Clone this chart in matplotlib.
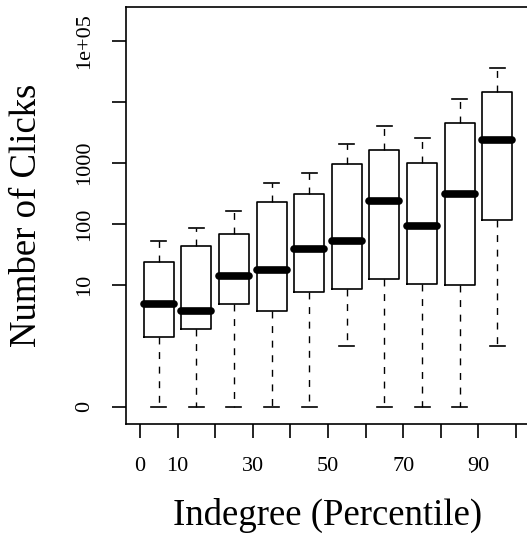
import matplotlib
matplotlib.use("Agg")
import matplotlib.pyplot as plt

plt.rcParams["font.family"] = ["Liberation Serif", "DejaVu Serif"]
plt.rcParams["lines.scale_dashes"] = False

# percentile bins (box centres) and box statistics (clicks); 0 clicks drawn at 0.1
positions = [5, 15, 25, 35, 45, 55, 65, 75, 85, 95]
whis_lo = [0, 0, 0, 0, 0, 1, 0, 0, 0, 1]
q1 = [1.4, 1.9, 4.8, 3.75, 7.7, 8.7, 12.5, 10.4, 9.9, 116]
medians = [4.8, 3.75, 14, 17.6, 39, 53, 238, 92, 307, 2380]
q3 = [24, 44, 68, 226, 307, 964, 1633, 1010, 4580, 14400]
whis_hi = [53, 85, 165, 470, 693, 2050, 4040, 2535, 11200, 35600]

x_ticks = [0, 10, 20, 30, 40, 50, 60, 70, 80, 90, 100]
x_labels = ["0", "10", "", "30", "", "50", "", "70", "", "90", ""]
y_ticks = [0.1, 10, 100, 1000, 10000, 100000]
y_labels = ["0", "10", "100", "1000", "", "1e+05"]

ZERO = 0.1


def fix(v):
    return ZERO if v == 0 else v


stats = []
for lo, a, m, b, hi in zip(whis_lo, q1, medians, q3, whis_hi):
    stats.append(dict(whislo=fix(lo), q1=a, med=m, q3=b, whishi=hi, fliers=[]))

fig = plt.figure(figsize=(5.27, 5.35), dpi=100)
W, H = 527, 535
ax = fig.add_axes([126 / W, 1 - 424 / H, 404 / W, 417 / H])

ax.bxp(
    stats,
    positions=positions,
    widths=8,
    capwidths=4,
    showfliers=False,
    boxprops=dict(color="black", linewidth=1.2),
    whiskerprops=dict(color="black", linewidth=1.0, linestyle=(0, (5, 5.5))),
    capprops=dict(color="black", linewidth=1.2),
    medianprops=dict(color="black", linewidth=5.5, solid_capstyle="round"),
    manage_ticks=False,
)

ax.set_yscale("log")
ax.set_ylim(10 ** -1.28, 10 ** 5.56)
ax.set_xlim(-3.7, 103.7)

ax.set_yticks(y_ticks)
ax.set_yticklabels(y_labels, rotation=90, va="center")
ax.minorticks_off()
ax.set_xticks(x_ticks)
ax.set_xticklabels(x_labels)
ax.tick_params(axis="both", length=10, width=1.2, labelsize=16)
ax.tick_params(axis="x", pad=14)
ax.tick_params(axis="y", pad=13)

for s in ax.spines.values():
    s.set_linewidth(1.2)

ax.set_xlabel("Indegree (Percentile)", fontsize=26.5, va="center")
ax.set_ylabel("Number of Clicks", fontsize=26.5, va="center")
ax.xaxis.set_label_coords(0.5, (424 - 515) / 417)
ax.yaxis.set_label_coords((27 - 126) / 404, 0.5)

fig.savefig("out.png", dpi=100)
